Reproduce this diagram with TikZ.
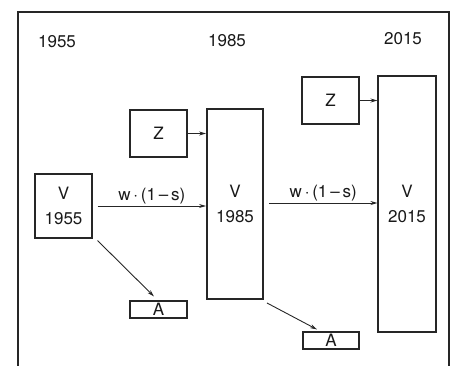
\documentclass[tikz,border=0pt]{standalone}
\usepackage{fontspec}
\setmainfont{TeX Gyre Heros}
\usetikzlibrary{arrows.meta,calc}
\begin{document}
\begin{tikzpicture}[x=1pt,y=-1pt,
  every node/.style={font=\fontsize{17}{25}\selectfont, text=black!90},
  box/.style={draw=black!85, line width=1.1pt, inner sep=0pt, align=center},
  thickbox/.style={box, line width=1.9pt},
  conn/.style={draw=black!85, line width=0.9pt, -{Stealth[length=7pt,width=4pt]}},
  lbl/.style={inner sep=1pt, anchor=south}]
\useasboundingbox (0,0) rectangle (450,365);
\draw[line width=1.2pt, black!85] (18,366) -- (18,12) -- (449,12) -- (449,366);
\node (y1) at (57,42) {1955};
\node (y2) at (227,41) {1985};
\node (y3) at (403,39) {2015};
\node[box, minimum width=57pt, minimum height=64pt] (v1) at (63.5,206) {V\\1955};
\node[box, minimum width=57pt, minimum height=47pt] (z1) at (158.5,133.5) {Z};
\node[thickbox, minimum width=56pt, minimum height=190pt] (v2) at (235,204) {V\\1985};
\node[box, minimum width=57pt, minimum height=47pt] (z2) at (330.5,100.5) {Z};
\node[box, minimum width=58pt, minimum height=256pt] (v3) at (407,204) {V\\2015};
\node[box, minimum width=57pt, minimum height=17pt] (a1) at (158.5,309.5) {\raisebox{-3pt}{A}};
\node[box, minimum width=56pt, minimum height=17pt] (a2) at (331,340.5) {\raisebox{-3pt}{A}};
\draw[conn] ($(v1.east)+(5,0)$) -- (v1.east -| v2.west) node[lbl, midway] {w\,·\,(1\,–\,s)};
\draw[conn] ($(v2.east)+(5,-1)$) -- ($(v2.east -| v3.west)+(0,-1)$) node[lbl, midway] {w\,·\,(1\,–\,s)};
\draw[conn] (z1.east) -- (z1.east -| v2.west);
\draw[conn] (z2.east) -- (z2.east -| v3.west);
\draw[conn] ($(v1.south east)+(5,2)$) -- ($(a1.north)+(-4.5,-4)$);
\draw[conn] ($(v2.south east)+(3,3)$) -- ($(a2.north)+(-14,-2)$);
\end{tikzpicture}
\end{document}
